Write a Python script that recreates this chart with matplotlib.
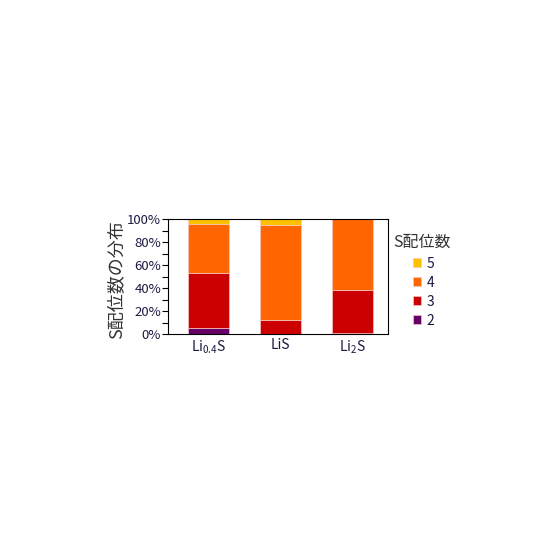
import numpy as np
import matplotlib
matplotlib.use("Agg")
import matplotlib.pyplot as plt
from matplotlib.ticker import PercentFormatter, MultipleLocator

plt.rcParams['font.family'] = ['Noto Sans CJK JP', 'DejaVu Sans']
plt.rcParams['mathtext.fontset'] = 'custom'
plt.rcParams['mathtext.rm'] = 'Noto Sans'
plt.rcParams['mathtext.it'] = 'Noto Sans'
plt.rcParams['mathtext.bf'] = 'Noto Sans'
plt.rcParams['mathtext.default'] = 'regular'

# data (percent of S atoms by coordination number)
materials = ['Li$_{0.4}$S', 'LiS', 'Li$_{2}$S']
coord_labels = ['2', '3', '4', '5']
cn2 = [4.9, 0.0, 1.0]
cn3 = [48.6, 12.5, 37.4]
cn4 = [42.7, 82.8, 61.6]
cn5 = [3.8, 4.7, 0.0]
colors = ['#660066', '#CC0000', '#FF6600', '#FFC000']

fig = plt.figure(figsize=(5.6, 5.6), dpi=100)
ax = fig.add_axes([0.30, 0.4036, 0.393, 0.205])

x = np.arange(len(materials))
bottom = np.zeros(len(materials))
handles = []
for vals, c, lab in zip([cn2, cn3, cn4, cn5], colors, coord_labels):
    b = ax.bar(x, vals, width=0.57, bottom=bottom, color=c,
               edgecolor='#f4c8c8', linewidth=0.5, label=lab)
    handles.append(b)
    bottom += np.array(vals)

ax.set_xlim(-0.56, 2.49)
ax.set_ylim(0, 100)
ax.yaxis.set_major_locator(MultipleLocator(20))
ax.yaxis.set_minor_locator(MultipleLocator(10))
ax.yaxis.set_major_formatter(PercentFormatter(decimals=0))
ax.set_xticks(x)
ax.set_xticklabels(materials)
ax.tick_params(axis='y', which='both', direction='out', length=4, width=0.8,
               labelsize=9.5, labelcolor='#1a1a40', pad=1)
ax.tick_params(axis='x', length=0, labelsize=10, labelcolor='#1a1a40', pad=3)
for s in ax.spines.values():
    s.set_linewidth(0.8)

fig.text(117 / 560, 0.5, 'S配位数の分布', rotation=90, ha='center', va='center',
         fontsize=13, color='#333333')

# legend title placed separately so the entries sit indented under it
fig.text(393 / 560, 1 - 242 / 560, 'S配位数', ha='left', va='center',
         fontsize=11.5, color='#333333')
leg = fig.legend(handles[::-1], coord_labels[::-1],
                 loc='upper left', bbox_to_anchor=(407 / 560, 1 - 251 / 560),
                 frameon=False, fontsize=10, handlelength=0.6,
                 handleheight=0.6, handletextpad=0.4, labelspacing=0.36,
                 borderaxespad=0.0)
for t in leg.get_texts():
    t.set_color('#1a1a40')

fig.savefig('out.png', dpi=100)
